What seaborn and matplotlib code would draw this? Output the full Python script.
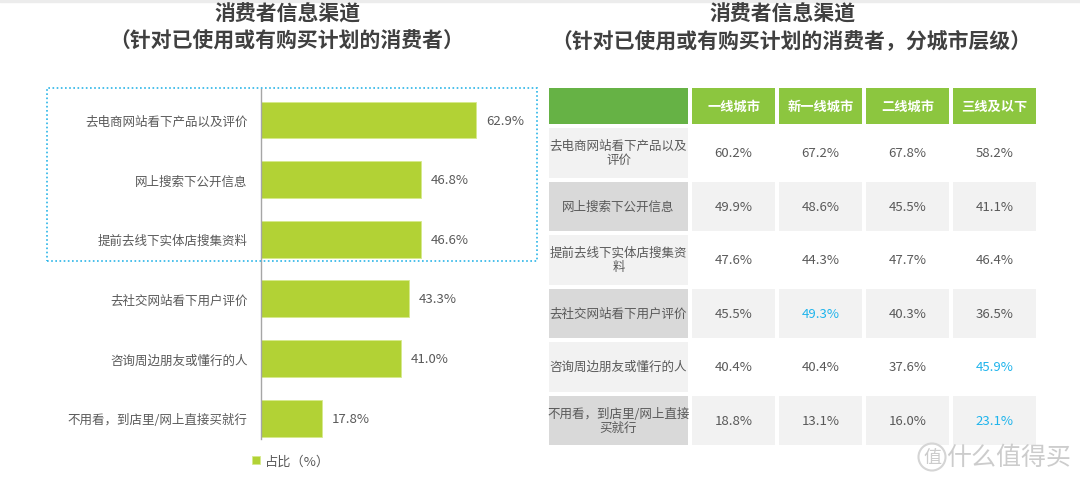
import numpy as np
import pandas as pd
import matplotlib.pyplot as plt
import seaborn as sns
from matplotlib.colors import ListedColormap
from matplotlib.patches import Rectangle

# data
channels = ['去电商网站看下产品以及评价', '网上搜索下公开信息', '提前去线下实体店搜集资料',
            '去社交网站看下用户评价', '咨询周边朋友或懂行的人', '不用看，到店里/网上直接买就行']
share = [62.9, 46.8, 46.6, 43.3, 41.0, 17.8]

table_rows = ['去电商网站看下产品以及\n评价', '网上搜索下公开信息', '提前去线下实体店搜集资\n料',
              '去社交网站看下用户评价', '咨询周边朋友或懂行的人', '不用看，到店里/网上直接\n买就行']
city_tiers = ['一线城市', '新一线城市', '二线城市', '三线及以下']
tier1 = [60.2, 49.9, 47.6, 45.5, 40.4, 18.8]
new_tier1 = [67.2, 48.6, 44.3, 49.3, 40.4, 13.1]
tier2 = [67.8, 45.5, 47.7, 40.3, 37.6, 16.0]
tier3_below = [58.2, 41.1, 46.4, 36.5, 45.9, 23.1]
highlight = [(3, 1), (4, 3), (5, 3)]  # (row, col) shown in blue

sns.set_theme(style='white')
plt.rcParams['font.family'] = ['Noto Sans CJK SC', 'DejaVu Sans']

W, H = 1080, 481
fig = plt.figure(figsize=(W / 100, H / 100), dpi=100)


def box(x0, y0, x1, y1):
    return [x0 / W, 1 - y1 / H, (x1 - x0) / W, (y1 - y0) / H]


grey = '#595959'
green = '#b2d235'

# faint strip at top
fig.patches.append(Rectangle((0, 1 - 3 / H), 1, 3 / H, transform=fig.transFigure,
                             color='#ececec', zorder=0))

# titles
fig.text(287 / W, 1 - 14 / H, '消费者信息渠道', ha='center', va='center',
         fontsize=15, fontweight='bold', color='#404040')
fig.text(287 / W, 1 - 41 / H, '（针对已使用或有购买计划的消费者）', ha='center', va='center',
         fontsize=15, fontweight='bold', color='#404040')
fig.text(782 / W, 1 - 14 / H, '消费者信息渠道', ha='center', va='center',
         fontsize=15, fontweight='bold', color='#404040')
fig.text(791 / W, 1 - 41 / H, '（针对已使用或有购买计划的消费者，分城市层级）', ha='center',
         va='center', fontsize=15, fontweight='bold', color='#404040')

# left bar chart
ax = fig.add_axes(box(261, 90, 535, 440))
df = pd.DataFrame({'channel': channels, 'share': share})
sns.barplot(data=df, x='share', y='channel', orient='h', color=green, width=0.62,
            saturation=1, edgecolor='#d6ea8c', linewidth=0.6, label='占比（%）', ax=ax)
ax.set_xlim(0, 80)
ax.set_ylim(5.35, -0.52)
ax.set_xlabel('')
ax.set_ylabel('')
ax.set_xticks([])
for s in ['top', 'right', 'bottom']:
    ax.spines[s].set_visible(False)
ax.spines['left'].set_color('#a6a6a6')
ax.spines['left'].set_linewidth(1)
ax.tick_params(axis='y', length=0, pad=9.5, labelsize=9, labelcolor=grey)
ax.bar_label(ax.containers[0], labels=[f'{v:.1f}%' for v in share], padding=7,
             fontsize=9.5, color=grey)
ax.legend(loc='center left', bbox_to_anchor=(252 / W, 1 - 462 / H), bbox_transform=fig.transFigure,
          frameon=False, fontsize=9.5, handlelength=0.6, handleheight=0.6,
          handletextpad=0.4, borderpad=0, borderaxespad=0, labelcolor=grey)

# dotted highlight box
fig.patches.append(Rectangle((47 / W, 1 - 262 / H), 490 / W, 173 / H, transform=fig.transFigure,
                             fill=False, ec='#2bb5e8', lw=1.2, ls=(0, (1, 1.5))))

# right table
vals = np.array([tier1, new_tier1, tier2, tier3_below]).T
val_txt = np.array([[f'{v:.1f}%' for v in r] for r in vals])
row_shade = np.array([[i % 2] * 4 for i in range(len(table_rows))], dtype=float)

# header cells
axh0 = fig.add_axes(box(547, 87, 690, 127))
sns.heatmap(np.zeros((1, 1)), cmap=ListedColormap(['#66b245']), cbar=False,
            linewidths=1.5, linecolor='white', xticklabels=False, yticklabels=False, ax=axh0)
axh = fig.add_axes(box(690, 87, 1038, 127))
sns.heatmap(np.zeros((1, 4)), cmap=ListedColormap(['#8cc63f']), cbar=False,
            linewidths=1.5, linecolor='white', xticklabels=False, yticklabels=False,
            annot=np.array([city_tiers]), fmt='',
            annot_kws=dict(color='white', fontsize=9.5, fontweight='bold'), ax=axh)

# row label column
axl = fig.add_axes(box(547, 127, 690, 448))
sns.heatmap(row_shade[:, :1], cmap=ListedColormap(['#f2f2f2', '#d9d9d9']), vmin=0, vmax=1,
            cbar=False, linewidths=1.5, linecolor='white', xticklabels=False, yticklabels=False,
            annot=np.array(table_rows)[:, None], fmt='',
            annot_kws=dict(color=grey, fontsize=9, linespacing=1.1), ax=axl)

# values
axv = fig.add_axes(box(690, 127, 1038, 448))
sns.heatmap(row_shade, cmap=ListedColormap(['#ffffff', '#f2f2f2']), vmin=0, vmax=1,
            cbar=False, linewidths=1.5, linecolor='white', xticklabels=False, yticklabels=False,
            annot=val_txt, fmt='', annot_kws=dict(color=grey, fontsize=9.5), ax=axv)
for k, t in enumerate(axv.texts):
    if (k // 4, k % 4) in highlight:
        t.set_color('#1fb4ec')

# watermark
fig.text(932 / W, 1 - 458 / H, '值', ha='center', va='center', fontsize=13, color='#cccccc',
         bbox=dict(boxstyle='circle,pad=0.25', fc='none', ec='#d5d5d5', lw=1.5))
fig.text(1009 / W, 1 - 458 / H, '什么值得买', ha='center', va='center', fontsize=18,
         color='#cccccc')

fig.savefig('out.png', dpi=100)
